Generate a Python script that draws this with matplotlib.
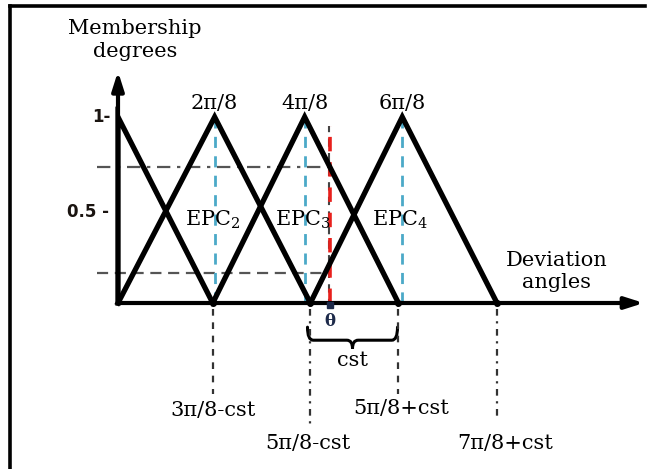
import matplotlib.pyplot as plt
import numpy as np
from matplotlib.path import Path
from matplotlib.patches import PathPatch

plt.rcParams["mathtext.fontset"] = "dejavuserif"

# membership functions (triangles), x in "step" units
MF_LEFT = [0.0, 0.0, 1.0, 2.03]
MF_PEAK = [0.0, 1.02, 1.97, 3.0]
MF_RIGHT = [1.0, 2.03, 2.96, 4.0]
PEAK_LABELS = [None, "2\u03c0/8", "4\u03c0/8", "6\u03c0/8"]
EPC_LABELS = [None, "EPC$_2$", "EPC$_3$", "EPC$_4$"]

THETA = 2.24
MU_THETA = [0.73, 0.16]   # membership degrees read at theta

FOOT_POS = [1.0, 2.03, 2.96, 4.0]
FOOT_LABELS = ["3\u03c0/8-cst", "5\u03c0/8-cst", "5\u03c0/8+cst", "7\u03c0/8+cst"]
FOOT_DEPTH = [-0.49, -0.66, -0.49, -0.63]
FOOT_LABEL_Y = [-0.58, -0.755, -0.565, -0.755]
FOOT_LABEL_X = [1.0, 2.0, 2.99, 4.09]
FOOT_STYLE = ["dashed", "dashdot", "dashed", "dashdot"]

CST_RANGE = [2.0, 2.95]

SERIF = "DejaVu Serif"
FS = 15

# pixel mapping of the original drawing: x_px = 118 + 94.75*u, y_px = 303 - 186*v
X0, XS = 118, 94.75
Y0, YS = 303, 186
W, H = 650, 469

fig = plt.figure(figsize=(6.5, 4.69), dpi=100)
ax = fig.add_axes([0, 0, 1, 1])
ax.set_xlim(-X0 / XS, (W - X0) / XS)
ax.set_ylim((Y0 - H) / YS, Y0 / YS)
ax.axis("off")

# frame (only top and left)
fig.add_artist(plt.Line2D([10 / W, 10 / W], [0, 1 - 6 / H], color="black", lw=2.6))
fig.add_artist(plt.Line2D([10 / W, 645 / W], [1 - 6 / H, 1 - 6 / H], color="black", lw=2.6))

# horizontal guides at the membership values of theta
ax.plot([-0.22, THETA], [MU_THETA[0]] * 2, color="#555555", lw=1.6, ls=(0, (6, 3, 1.5, 3)), zorder=1)
ax.plot([-0.22, THETA], [MU_THETA[1]] * 2, color="#555555", lw=1.6, ls=(0, (5, 3)), zorder=1)

# cyan dashed lines at the peaks
for p in MF_PEAK[1:]:
    ax.plot([p, p], [0, 1], color="#4ba9c8", lw=2, ls=(0, (4, 3)), zorder=2)

# theta line
ax.plot([THETA - 0.015, THETA - 0.015], [0, 0.95], color="#444444", lw=1.5, ls=(2, (4, 3)), zorder=2)
ax.plot([THETA, THETA], [0, 0.95], color="#e8201c", lw=2.6, ls=(0, (4, 3)), zorder=3)

# triangles
for l, p, r in zip(MF_LEFT, MF_PEAK, MF_RIGHT):
    ax.plot([l, p, r], [0, 1, 0], color="black", lw=3.8, solid_joinstyle="miter", zorder=4)

# axes arrows
ax.annotate("", xy=(5.55, 0), xytext=(0, 0),
            arrowprops=dict(arrowstyle="-|>,head_length=1.1,head_width=0.35", color="black", lw=3, shrinkA=0, shrinkB=0),
            zorder=5)
ax.annotate("", xy=(0, 1.245), xytext=(0, 0),
            arrowprops=dict(arrowstyle="-|>,head_length=1.1,head_width=0.35", color="black", lw=3, shrinkA=0, shrinkB=0),
            zorder=5)

# foot markers below the axis
for x, d, s in zip(FOOT_POS, FOOT_DEPTH, FOOT_STYLE):
    ax.plot([x, x], [-0.03, d], color="#333333", lw=1.6,
            ls=(0, (3, 3)) if s == "dashed" else (0, (3, 2.5, 1, 2.5)), zorder=2)
    ax.plot(x, 0, "o", color="black", ms=4, zorder=6)
for lx, ly, lab in zip(FOOT_LABEL_X, FOOT_LABEL_Y, FOOT_LABELS):
    ax.text(lx, ly, lab, family=SERIF, fontsize=FS, ha="center", va="center")

ax.plot(THETA, -0.01, "s", color="#1d2a4a", ms=4, zorder=6)

# peak labels and EPC labels
for p, pl, el in zip(MF_PEAK, PEAK_LABELS, EPC_LABELS):
    if pl is None:
        continue
    ax.text(p, 1.075, pl, family=SERIF, fontsize=FS, ha="center", va="center")
    ax.text(p - 0.02, 0.445, el, family=SERIF, fontsize=FS, ha="center", va="center", zorder=7)

# y tick labels
ax.text(-0.08, 1.0, "1-", fontsize=12, fontweight="bold", ha="right", va="center", color="#1a1410")
ax.text(-0.10, 0.49, "0.5 -", fontsize=12, fontweight="bold", ha="right", va="center", color="#1a1410")

# axis titles
ax.text(0.18, 1.415, "Membership\ndegrees", family=SERIF, fontsize=FS, ha="center", va="center", linespacing=1.25)
ax.text(4.63, 0.17, "Deviation\nangles", family=SERIF, fontsize=FS, ha="center", va="center", linespacing=1.2)

# theta and brace
ax.text(THETA, -0.10, "\u03b8", family=SERIF, fontsize=12, fontweight="bold", ha="center", va="center", color="#1d2a4a")

x0, x1 = CST_RANGE
xm = (x0 + x1) / 2
yt, ym, yb = -0.13, -0.20, -0.245
r = 0.06
verts = [(x0, yt), (x0, ym), (x0 + r, ym), (xm - r, ym), (xm, ym), (xm, yb),
         (xm, ym), (xm + r, ym), (x1 - r, ym), (x1, ym), (x1, yt)]
codes = [Path.MOVETO, Path.CURVE3, Path.CURVE3, Path.LINETO, Path.CURVE3, Path.CURVE3,
         Path.CURVE3, Path.CURVE3, Path.LINETO, Path.CURVE3, Path.CURVE3]
ax.add_patch(PathPatch(Path(verts, codes), fill=False, color="black", lw=2.2, capstyle="round"))
ax.text(xm, -0.31, "cst", family=SERIF, fontsize=FS, ha="center", va="center")

fig.savefig("out.png", dpi=100)
